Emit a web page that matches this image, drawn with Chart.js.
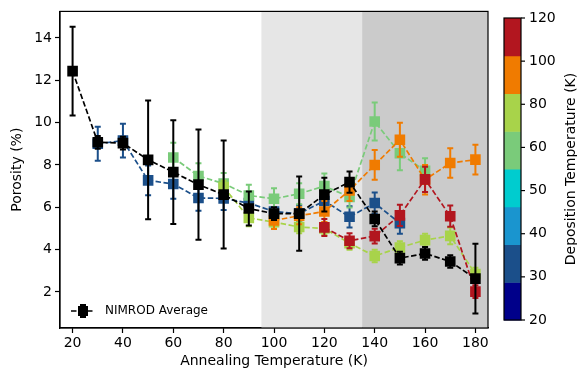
<!DOCTYPE html>
<html><head><meta charset="utf-8">
<script src="https://cdn.jsdelivr.net/npm/chart.js@4.4.0/dist/chart.umd.min.js"></script>
<style>html,body{margin:0;padding:0;background:#fff;}#wrap{width:577px;height:373px;}</style>
</head><body><div id="wrap"><canvas id="c" width="577" height="373"></canvas></div>
<script>
// ---- data ----
const avgX = [20,30,40,50,60,70,80,90,100,110,120,130,140,150,160,170,180];
const avgY = [12.43,9.07,9.03,8.24,7.66,7.07,6.6,5.94,5.7,5.7,6.6,7.19,5.45,3.6,3.82,3.44,2.63];
const avgErr = [2.1,0.3,0.3,2.8,2.45,2.6,2.55,0.8,0.3,1.75,0.8,0.5,0.35,0.3,0.3,0.3,1.65];

const k30X = [30,40,50,60,70,80,90,100,110,120,130,140,150];
const k30Y = [9.0,9.15,7.27,7.1,6.44,6.42,6.2,5.8,5.7,6.3,5.55,6.2,5.25];
const k30Err = [0.8,0.8,0.7,0.7,0.6,0.55,0.4,0.4,0.4,0.4,0.5,0.5,0.5];

const k60X = [60,70,80,90,100,110,120,130,140,150,160];
const k60Y = [8.35,7.48,7.12,6.56,6.4,6.64,7.0,6.49,10.05,8.55,7.72];
const k60Err = [0.7,0.6,0.5,0.5,0.5,0.5,0.6,0.5,0.9,0.8,0.6];

const k80X = [80,90,100,110,120,130,140,150,160,170,180];
const k80Y = [6.95,5.5,5.3,5.07,5.0,4.3,3.7,4.1,4.45,4.65,2.85];
const k80Err = [0.3,0.4,0.3,0.3,0.3,0.3,0.3,0.3,0.3,0.4,0.3];

const k100X = [100,110,120,130,140,150,160,170,180];
const k100Y = [5.38,5.6,5.8,6.8,8.0,9.19,7.3,8.09,8.25];
const k100Err = [0.4,0.4,0.5,0.5,0.7,0.8,0.7,0.7,0.7];

const k120X = [120,130,140,150,160,170,180];
const k120Y = [5.05,4.42,4.64,5.62,7.32,5.58,2.02];
const k120Err = [0.4,0.35,0.35,0.5,0.6,0.5,0.3];

const xTicks = [20,40,60,80,100,120,140,160,180];
const yTicks = [2,4,6,8,10,12,14];
const shadeRegions = [[95,135,'#e6e6e6'],[135,185,'#cbcbcb']];
const cbarColors = ['#00008a','#1b4f8a','#1a95cf','#00cccf','#7acb7a','#a8d34a','#f07b00','#b2161f'];
const cbarTicks = [20,30,40,50,60,80,100,120];

const FONT = "'DejaVu Sans', sans-serif";
const pts = (xs, ys) => xs.map((x,i)=>({x, y: ys[i]}));

function mkDs(label, xs, ys, errs, color){
  return {label, data: pts(xs,ys), err: errs, borderColor: color, backgroundColor: color,
    borderWidth: 1.7, borderDash: [5.5,2.5], pointStyle: 'rect', pointRadius: 7.5, pointHoverRadius: 7.5,
    pointBorderWidth: 0, showLine: true, tension: 0, fill: false};
}

const datasets = [
  mkDs('NIMROD Average', avgX, avgY, avgErr, '#000000'),
  mkDs('120 K', k120X, k120Y, k120Err, '#b2161f'),
  mkDs('100 K', k100X, k100Y, k100Err, '#f07b00'),
  mkDs('80 K', k80X, k80Y, k80Err, '#a8d34a'),
  mkDs('60 K', k60X, k60Y, k60Err, '#7acb7a'),
  mkDs('30 K', k30X, k30Y, k30Err, '#1b4f8a'),
];

const shade = {
  id:'shade',
  beforeDatasetsDraw(chart){
    const {ctx, chartArea:a, scales:{x}} = chart;
    ctx.save();
    shadeRegions.forEach(([x0,x1,c])=>{
      const p0 = x.getPixelForValue(x0), p1 = x.getPixelForValue(x1);
      ctx.fillStyle = c; ctx.fillRect(p0, a.top, p1-p0, a.bottom-a.top);
    });
    ctx.restore();
  }
};

const errorBars = {
  id:'errorBars',
  beforeDatasetDraw(chart, args){
    const ds = chart.data.datasets[args.index];
    if(!ds.err) return;
    const {ctx, scales:{x, y}} = chart;
    ctx.save();
    ctx.strokeStyle = ds.borderColor; ctx.lineWidth = 2; ctx.setLineDash([]);
    ds.data.forEach((p,i)=>{
      const e = ds.err[i];
      const px = x.getPixelForValue(p.x);
      const y1 = y.getPixelForValue(p.y - e), y2 = y.getPixelForValue(p.y + e);
      ctx.beginPath();
      ctx.moveTo(px, y1); ctx.lineTo(px, y2);
      ctx.moveTo(px-3, y1); ctx.lineTo(px+3, y1);
      ctx.moveTo(px-3, y2); ctx.lineTo(px+3, y2);
      ctx.stroke();
    });
    ctx.restore();
  }
};

const frameLegendCbar = {
  id:'frameLegendCbar',
  afterDraw(chart){
    const {ctx, chartArea:a} = chart;
    ctx.save();
    // frame
    ctx.strokeStyle = '#000'; ctx.lineWidth = 1.2; ctx.setLineDash([]);
    ctx.strokeRect(a.left, a.top, a.right-a.left, a.bottom-a.top);
    // legend
    const ly = 311;
    ctx.strokeStyle = '#000'; ctx.lineWidth = 1.7; ctx.setLineDash([5.5,2.5]);
    ctx.beginPath(); ctx.moveTo(71, ly); ctx.lineTo(95, ly); ctx.stroke();
    ctx.setLineDash([]); ctx.lineWidth = 2;
    ctx.beginPath(); ctx.moveTo(83, ly-6); ctx.lineTo(83, ly+6);
    ctx.moveTo(80, ly-6); ctx.lineTo(86, ly-6); ctx.moveTo(80, ly+6); ctx.lineTo(86, ly+6); ctx.stroke();
    ctx.fillStyle = '#000'; ctx.fillRect(78, ly-5, 10, 10);
    ctx.font = '12px ' + FONT; ctx.textBaseline = 'middle'; ctx.textAlign = 'left';
    ctx.fillText('NIMROD Average', 105, ly);
    // colorbar
    const cx0 = 504, cx1 = 521, cy0 = 18, cy1 = 320;
    const n = cbarColors.length, seg = (cy1-cy0)/n;
    cbarColors.forEach((c,i)=>{ ctx.fillStyle = c; ctx.fillRect(cx0, cy1 - (i+1)*seg, cx1-cx0, seg+0.5); });
    ctx.strokeStyle = '#000'; ctx.lineWidth = 1.2;
    ctx.strokeRect(cx0, cy0, cx1-cx0, cy1-cy0);
    const m = cbarTicks.length - 1, tstep = (cy1-cy0)/m;
    ctx.font = '14px ' + FONT; ctx.fillStyle = '#000'; ctx.textAlign = 'left'; ctx.textBaseline = 'middle';
    cbarTicks.forEach((t,i)=>{
      const ty = cy1 - i*tstep;
      ctx.beginPath(); ctx.moveTo(cx1, ty); ctx.lineTo(cx1+4, ty); ctx.stroke();
      ctx.fillText(String(t), cx1+8, ty);
    });
    ctx.translate(571, (cy0+cy1)/2); ctx.rotate(-Math.PI/2);
    ctx.textAlign = 'center'; ctx.font = '14px ' + FONT;
    ctx.fillText('Deposition Temperature (K)', 0, 0);
    ctx.restore();
  }
};

new Chart(document.getElementById('c'), {
  type: 'scatter',
  data: { datasets },
  options: {
    responsive: false, animation: false, devicePixelRatio: 1,
    layout: { padding: { left: 0, right: 89, top: 10, bottom: 0 } },
    plugins: { legend: { display: false }, tooltip: { enabled: false } },
    scales: {
      x: {
        type: 'linear', min: 15, max: 185,
        afterBuildTicks: s => { s.ticks = xTicks.map(v=>({value:v})); },
        afterFit: s => { s.height = 45; },
        grid: { drawOnChartArea: false, drawTicks: true, tickLength: 5, color: '#000', tickWidth: 1.2 },
        border: { display: true, color: '#000', width: 1.2 },
        ticks: { color: '#000', font: { family: FONT, size: 14 }, padding: 2, maxRotation: 0 },
        title: { display: true, text: 'Annealing Temperature (K)', color: '#000', font: { family: FONT, size: 14 }, padding: { top: 0, bottom: 3 } }
      },
      y: {
        type: 'linear', min: 0.3, max: 15.25,
        afterBuildTicks: s => { s.ticks = yTicks.map(v=>({value:v})); },
        afterFit: s => { s.width = 60; },
        grid: { drawOnChartArea: false, drawTicks: true, tickLength: 5, color: '#000', tickWidth: 1.2 },
        border: { display: true, color: '#000', width: 1.2 },
        ticks: { color: '#000', font: { family: FONT, size: 14 }, padding: 3 },
        title: { display: true, text: 'Porosity (%)', color: '#000', font: { family: FONT, size: 14 }, padding: { top: 9, bottom: 0 } }
      }
    }
  },
  plugins: [shade, errorBars, frameLegendCbar]
});
</script></body></html>
